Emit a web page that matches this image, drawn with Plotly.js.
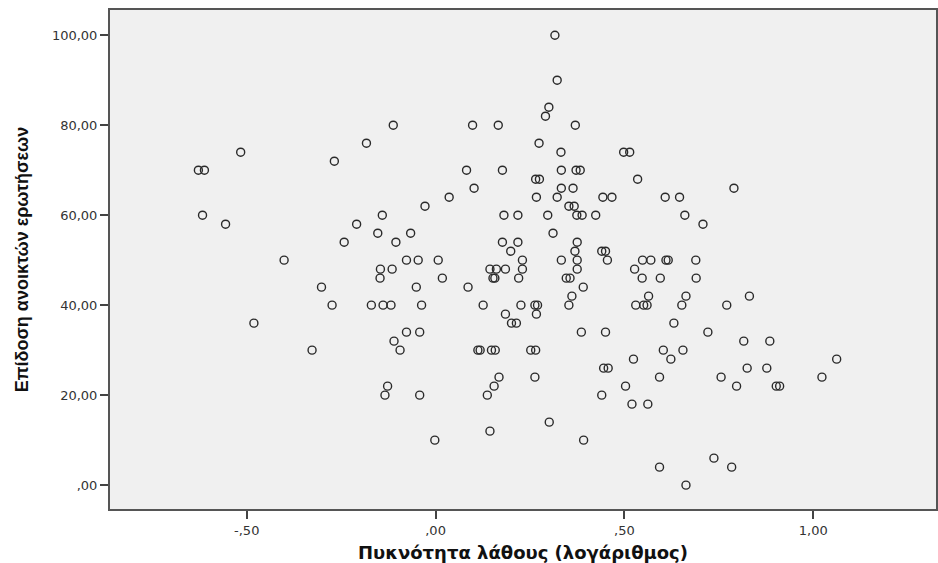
<!DOCTYPE html>
<html>
<head>
<meta charset="utf-8">
<script src="https://cdn.plot.ly/plotly-3.0.1.min.js"></script>
<style>body{margin:0;background:#fff;}#chart{width:938px;height:563px;}</style>
</head>
<body>
<div id="chart"></div>
<script>
// Πυκνότητα λάθους (λογάριθμος) – x values
const errorDensityLog = [
  -0.628,-0.612,-0.617,-0.556,-0.516,-0.481,-0.401,-0.327,-0.302,-0.274,
  -0.268,-0.242,-0.209,-0.183,-0.170,-0.153,-0.146,-0.147,-0.141,-0.139,
  -0.134,-0.127,-0.118,-0.115,-0.112,-0.110,-0.105,-0.094,-0.077,-0.077,
  -0.066,-0.051,-0.046,-0.042,-0.042,-0.037,-0.028,-0.002,0.007,0.018,
  0.036,0.082,0.086,0.098,0.102,0.112,0.118,0.126,0.137,0.144,
  0.144,0.148,0.152,0.157,0.155,0.158,0.161,0.166,0.168,0.177,
  0.177,0.181,0.185,0.185,0.199,0.201,0.214,0.218,0.218,0.220,
  0.226,0.230,0.230,0.252,0.265,0.263,0.270,0.263,0.267,0.265,
  0.275,0.267,0.274,0.291,0.297,0.300,0.301,0.311,0.316,0.322,
  0.322,0.332,0.333,0.333,0.333,0.346,0.356,0.353,0.367,0.353,
  0.361,0.364,0.370,0.372,0.383,0.374,0.388,0.375,0.369,0.375,
  0.375,0.391,0.386,0.392,0.424,0.440,0.450,0.443,0.467,0.440,
  0.445,0.457,0.450,0.455,0.498,0.514,0.503,0.520,0.524,0.527,
  0.530,0.535,0.547,0.548,0.551,0.560,0.562,0.564,0.570,0.593,
  0.593,0.595,0.603,0.608,0.610,0.616,0.623,0.631,0.646,0.652,
  0.655,0.660,0.663,0.663,0.689,0.690,0.708,0.721,0.737,0.756,
  0.771,0.784,0.790,0.797,0.816,0.825,0.831,0.877,0.885,0.902,
  0.911,1.023,1.062
];
// Επίδοση ανοικτών ερωτήσεων – y values
const openQuestionScore = [
  70,70,60,58,74,36,50,30,44,40,
  72,54,58,76,40,56,48,46,60,40,
  20,22,40,48,80,32,54,30,50,34,
  56,44,50,34,20,40,62,10,50,46,
  64,70,44,80,66,30,30,40,20,48,
  12,30,46,46,22,30,48,80,24,70,
  54,60,48,38,52,36,36,60,54,46,
  40,50,48,30,30,40,40,24,38,68,
  68,64,76,82,60,84,14,56,100,90,
  64,74,70,66,50,46,46,62,62,40,
  42,66,80,70,70,60,60,54,52,50,
  48,44,34,10,60,52,52,64,64,20,
  26,26,34,50,74,74,22,18,28,48,
  40,68,46,50,40,40,18,42,50,24,
  4,46,30,64,50,50,28,36,64,40,
  30,60,42,0,50,46,58,34,6,24,
  40,4,66,22,32,26,42,26,32,22,
  22,24,28
];
const xTickVals = [-0.5, 0, 0.5, 1.0];
const xTickText = ["-,50", ",00", ",50", "1,00"];
const yTickVals = [0, 20, 40, 60, 80, 100];
const yTickText = [",00", "20,00", "40,00", "60,00", "80,00", "100,00"];

const trace = {
  x: errorDensityLog,
  y: openQuestionScore,
  type: "scatter",
  mode: "markers",
  marker: {symbol: "circle-open", size: 8, color: "#2a2a2a", line: {width: 1.4, color: "#2a2a2a"}},
  hoverinfo: "x+y"
};

const layout = {
  width: 938, height: 563,
  margin: {l: 110, r: 2, t: 10, b: 54},
  paper_bgcolor: "#ffffff",
  plot_bgcolor: "#f0f0f0",
  showlegend: false,
  font: {family: "DejaVu Sans, Arial, sans-serif", color: "#333"},
  xaxis: {
    range: [-0.862, 1.325],
    tickvals: xTickVals, ticktext: xTickText,
    ticks: "outside", ticklen: 8, tickwidth: 2, tickcolor: "#444",
    showgrid: false, zeroline: false,
    showline: true, linewidth: 2, linecolor: "#555", mirror: true,
    tickfont: {family: "DejaVu Sans, Arial, sans-serif", size: 13, color: "#333"},
    title: {text: "Πυκνότητα λάθους (λογάριθμος)", standoff: 10,
            font: {family: "DejaVu Sans, Verdana, sans-serif", size: 18, weight: "bold", color: "#111"}},
    automargin: false
  },
  yaxis: {
    range: [-5.3, 105.6],
    tickvals: yTickVals, ticktext: yTickText,
    ticks: "outside", ticklen: 8, tickwidth: 2, tickcolor: "#444",
    showgrid: false, zeroline: false,
    showline: true, linewidth: 2, linecolor: "#555", mirror: true,
    tickfont: {family: "DejaVu Sans, Arial, sans-serif", size: 13, color: "#333"},
    title: {text: "Επίδοση ανοικτών ερωτήσεων", standoff: 19,
            font: {family: "Liberation Sans Narrow, Arial Narrow, Liberation Sans, Arial, sans-serif", size: 18, weight: "bold", color: "#111"}},
    automargin: false
  }
};

Plotly.newPlot("chart", [trace], layout, {displayModeBar: false, staticPlot: true});
</script>
</body>
</html>
